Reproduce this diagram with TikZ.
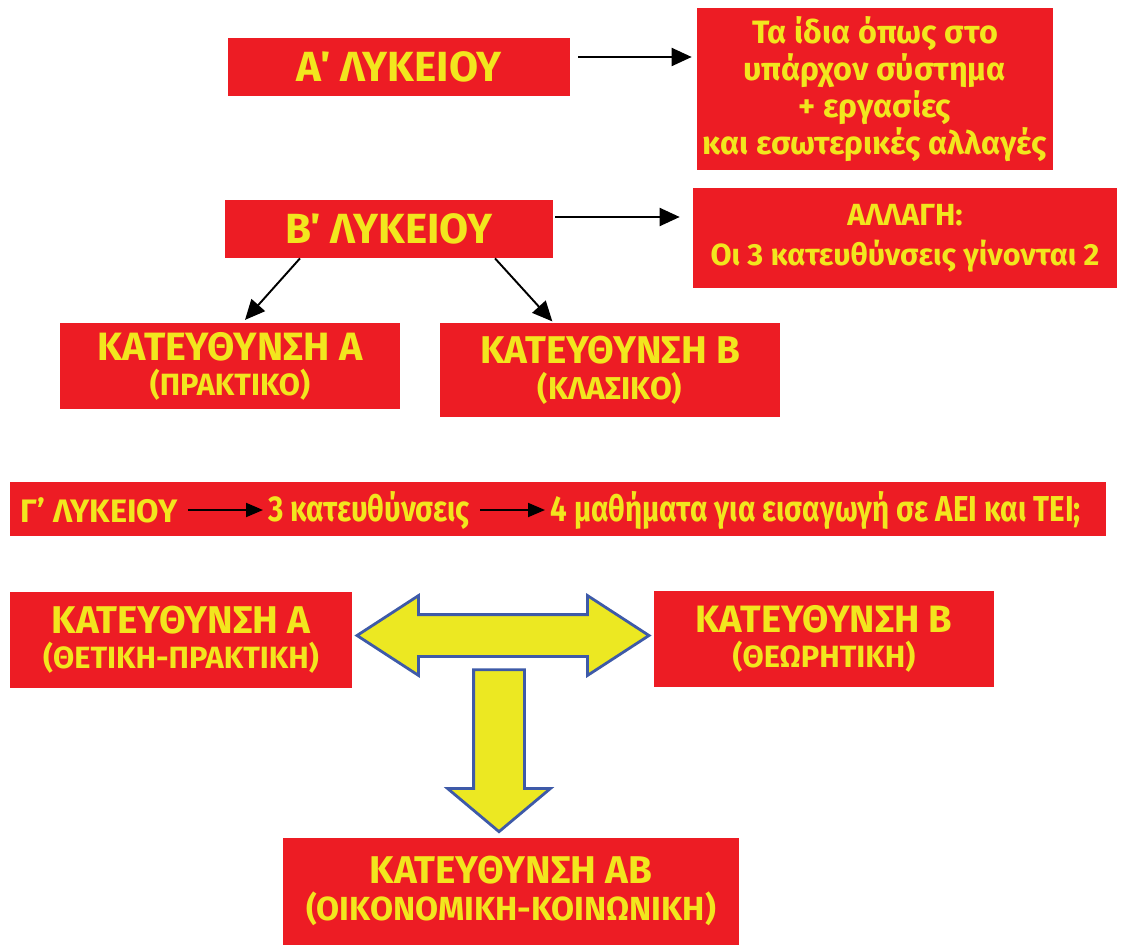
\documentclass[tikz,border=0pt]{standalone}
\usepackage{fontspec}
\setmainfont{Fira Sans}
\newfontfamily\condfont{Fira Sans}[FakeStretch=0.82]
\usetikzlibrary{arrows.meta,shapes.arrows,calc}

\definecolor{boxred}{RGB}{237,28,36}
\definecolor{txtyellow}{RGB}{242,230,30}
\definecolor{arrowyellow}{RGB}{236,232,34}
\definecolor{arrowblue}{RGB}{62,90,168}

\newcommand{\katlabel}[4]{{\fontsize{#3}{#3}\selectfont #1}\\[3.5pt]{\fontsize{#4}{#4}\selectfont #2}}

\tikzset{
	redbox/.style={fill=boxred, inner sep=0pt, align=center, text=txtyellow, font=\bfseries},
	arr/.style={-{Triangle[length=0.4cm,width=0.36cm]}, line width=1.1pt},
	garr/.style={-{Triangle[length=0.34cm,width=0.28cm]}, line width=1.1pt},
	gtext/.style={inner sep=0pt, text=txtyellow, font=\condfont\bfseries\fontsize{20.5}{20.5}\selectfont},
	blockarrow/.style={draw=arrowblue, fill=arrowyellow, line width=1.6pt, inner xsep=0pt}
}

\begin{document}
\begin{tikzpicture}[x=0.02cm,y=-0.02cm]
		\useasboundingbox (0,0) rectangle (1124,945);
		\node[redbox, minimum width=6.84cm, minimum height=1.16cm, font=\bfseries\fontsize{24}{24}\selectfont] (alyk) at (399,67) {Α΄ ΛΥΚΕΙΟΥ};
		\node[redbox, minimum width=7.12cm, minimum height=3.24cm, font=\bfseries\fontsize{18.4}{21}\selectfont] (ainfo) at (875,89) {Τα ίδια όπως στο\\υπάρχον σύστημα\\+ εργασίες\\και εσωτερικές αλλαγές};
		\draw[arr, shorten <=0.16cm, shorten >=0.1cm] ([yshift=0.2cm]alyk.east) -- ([yshift=0.2cm]alyk.east -| ainfo.west);

		\node[redbox, minimum width=6.56cm, minimum height=1.16cm, font=\bfseries\fontsize{24}{24}\selectfont] (blyk) at (389,229) {Β΄ ΛΥΚΕΙΟΥ};
		\node[redbox, minimum width=8.48cm, minimum height=2.02cm, font=\bfseries\fontsize{17.4}{22.7}\selectfont] (allagi) at (905,238) {ΑΛΛΑΓΗ:\\Οι 3 κατευθύνσεις γίνονται 2};
		\draw[arr, shorten <=0.04cm, shorten >=0.26cm] ([yshift=0.24cm]blyk.east) -- ([yshift=0.24cm]blyk.east -| allagi.west);

		\node[redbox, minimum width=6.8cm, minimum height=1.74cm] (kata) at (230,366) {\katlabel{ΚΑΤΕΥΘΥΝΣΗ Α}{(ΠΡΑΚΤΙΚΟ)}{22.5}{17.5}};
		\node[redbox, minimum width=6.8cm, minimum height=1.9cm] (katb) at (610,370) {\katlabel{ΚΑΤΕΥΘΥΝΣΗ Β}{(ΚΛΑΣΙΚΟ)}{22}{18}};
		\draw[arr, shorten >=0.06cm] ([xshift=-1.78cm]blyk.south) -- ([xshift=0.26cm]kata.north);
		\draw[arr, shorten >=0.02cm] ([xshift=2.12cm]blyk.south) -- ([xshift=-1.14cm]katb.north);

		\node[redbox, minimum width=21.94cm, minimum height=1.1cm] (glyk) at (558,509) {};
		\node[gtext, anchor=west, font=\bfseries\fontsize{18.5}{18.5}\selectfont] (gl) at (20,510) {Γ’ ΛΥΚΕΙΟΥ};
		\node[gtext, anchor=west] (gk) at (268,510) {3 κατευθύνσεις};
		\node[gtext, anchor=west] (gm) at (550,510) {4 μαθήματα για εισαγωγή σε ΑΕΙ και ΤΕΙ;};
		\draw[garr, shorten <=0.2cm, shorten >=0.1cm] (gl.east) -- (gk.west);
		\draw[garr, shorten <=0.2cm, shorten >=0.1cm] (gk.east) -- (gm.west);

		\node[redbox, minimum width=6.86cm, minimum height=1.92cm] (kata2) at (181,640) {\katlabel{ΚΑΤΕΥΘΥΝΣΗ Α}{(ΘΕΤΙΚΗ-ΠΡΑΚΤΙΚΗ)}{22}{17.5}};
		\node[redbox, minimum width=6.82cm, minimum height=1.92cm] (katb2) at (824,639) {\katlabel{ΚΑΤΕΥΘΥΝΣΗ Β}{(ΘΕΩΡΗΤΙΚΗ)}{21.7}{17.5}};
		\node[redbox, minimum width=9.14cm, minimum height=2.14cm] (katab) at (511,891) {\katlabel{ΚΑΤΕΥΘΥΝΣΗ ΑΒ}{(ΟΙΚΟΝΟΜΙΚΗ-ΚΟΙΝΩΝΙΚΗ)}{22}{19}};

		\node[blockarrow, double arrow, inner ysep=0.39cm, minimum height=5.84cm, minimum width=1.52cm, double arrow head extend=0.38cm, double arrow tip angle=66] (dbl) at ($(kata2.east)!0.5!(katb2.west)+(0,-4)$) {};
		\node[blockarrow, single arrow, rotate=-90, inner ysep=0.48cm, minimum height=3.24cm, minimum width=2cm, single arrow head extend=0.52cm, single arrow tip angle=100] (darr) at (499,740) {};
	\end{tikzpicture}
\end{document}
